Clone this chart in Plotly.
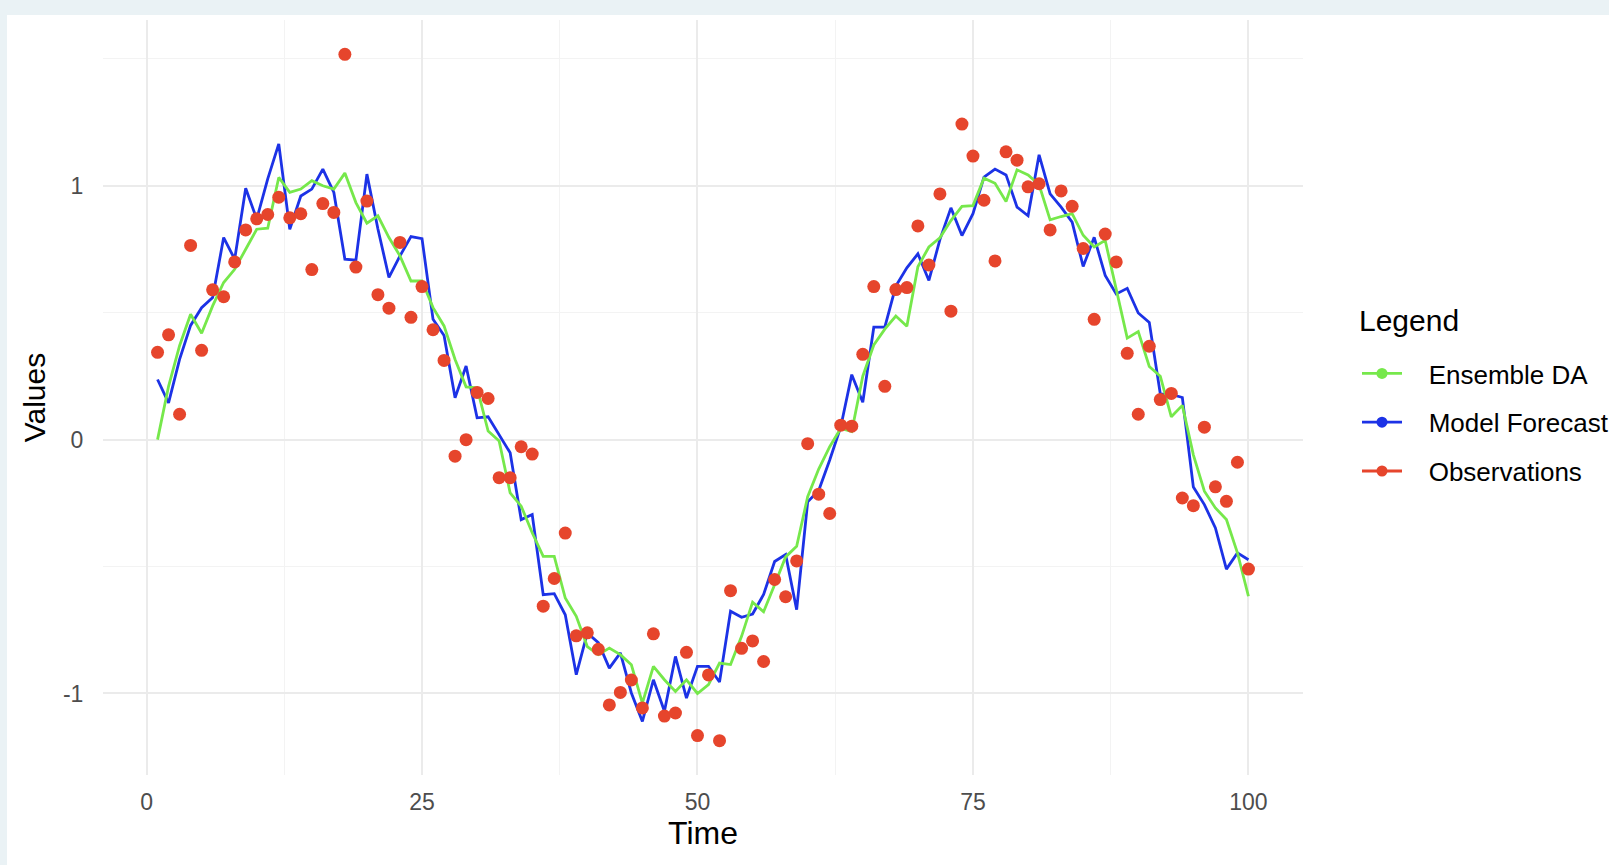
import plotly.graph_objects as go

time = list(range(1, 101))

observations = [0.344, 0.413, 0.10, 0.765, 0.352, 0.59, 0.563, 0.70, 0.826, 0.87,
                0.887, 0.955, 0.874, 0.89, 0.67, 0.93, 0.895, 1.518, 0.68, 0.94,
                0.571, 0.518, 0.777, 0.482, 0.603, 0.433, 0.312, -0.065, 0.0, 0.186,
                0.162, -0.15, -0.15, -0.028, -0.057, -0.656, -0.547, -0.368, -0.773, -0.761,
                -0.826, -1.045, -0.996, -0.947, -1.057, -0.765, -1.089, -1.077, -0.838, -1.166,
                -0.927, -1.186, -0.595, -0.822, -0.793, -0.874, -0.551, -0.619, -0.478, -0.016,
                -0.215, -0.291, 0.057, 0.053, 0.336, 0.603, 0.21, 0.591, 0.599, 0.842,
                0.688, 0.968, 0.506, 1.243, 1.117, 0.943, 0.704, 1.134, 1.101, 0.996,
                1.008, 0.826, 0.98, 0.919, 0.753, 0.474, 0.81, 0.70, 0.34, 0.10,
                0.368, 0.158, 0.182, -0.23, -0.26, 0.049, -0.186, -0.243, -0.089, -0.51]

model_forecast = [0.237, 0.145, 0.316, 0.45, 0.52, 0.56, 0.796, 0.711, 0.99, 0.869,
                  1.027, 1.165, 0.829, 0.96, 0.987, 1.066, 0.974, 0.711, 0.707, 1.046,
                  0.83, 0.639, 0.724, 0.80, 0.792, 0.474, 0.41, 0.165, 0.29, 0.086,
                  0.09, 0.02, -0.052, -0.315, -0.295, -0.611, -0.607, -0.69, -0.926, -0.762,
                  -0.80, -0.9, -0.84, -0.998, -1.11, -0.946, -1.07, -0.854, -1.018, -0.893,
                  -0.893, -0.955, -0.676, -0.70, -0.687, -0.61, -0.48, -0.453, -0.67, -0.245,
                  -0.2, -0.08, 0.05, 0.256, 0.147, 0.443, 0.443, 0.605, 0.677, 0.732,
                  0.627, 0.788, 0.913, 0.804, 0.89, 1.034, 1.066, 1.043, 0.916, 0.882,
                  1.122, 0.968, 0.916, 0.857, 0.682, 0.797, 0.647, 0.574, 0.596, 0.499,
                  0.462, 0.18, 0.178, 0.166, -0.187, -0.256, -0.348, -0.51, -0.446, -0.473]

ensemble_da = [0.0, 0.21, 0.37, 0.494, 0.419, 0.527, 0.619, 0.671, 0.75, 0.829,
               0.833, 1.033, 0.974, 0.987, 1.02, 1.0, 0.987, 1.05, 0.934, 0.853,
               0.882, 0.796, 0.724, 0.625, 0.625, 0.52, 0.448, 0.316, 0.208, 0.204,
               0.034, -0.005, -0.21, -0.262, -0.367, -0.46, -0.46, -0.624, -0.696, -0.815,
               -0.847, -0.821, -0.847, -0.887, -1.038, -0.893, -0.946, -0.992, -0.946, -1.0,
               -0.965, -0.88, -0.886, -0.775, -0.64, -0.678, -0.572, -0.462, -0.42, -0.225,
               -0.116, -0.028, 0.044, 0.032, 0.25, 0.373, 0.435, 0.487, 0.447, 0.681,
               0.759, 0.795, 0.863, 0.919, 0.922, 1.03, 1.01, 0.938, 1.063, 1.043,
               1.004, 0.866, 0.879, 0.89, 0.805, 0.759, 0.785, 0.59, 0.4, 0.426,
               0.288, 0.25, 0.09, 0.135, -0.06, -0.203, -0.269, -0.315, -0.446, -0.617]

legend_title = "Legend"
legend_names = ["Ensemble DA", "Model Forecast", "Observations"]
x_tickvals = [0, 25, 50, 75, 100]
x_ticktext = ["0", "25", "50", "75", "100"]
y_tickvals = [-1, 0, 1]
y_ticktext = ["-1", "0", "1"]

GREEN = "#76E84B"
BLUE = "#1C32E6"
RED = "#E6452C"
FONT = "Liberation Sans, Arial, Helvetica, sans-serif"
NBSP = "\u00a0"

fig = go.Figure()
fig.add_trace(go.Scatter(x=time, y=model_forecast, mode="lines",
                         line=dict(color=BLUE, width=2.8), showlegend=False))
fig.add_trace(go.Scatter(x=time, y=ensemble_da, mode="lines",
                         line=dict(color=GREEN, width=2.8), showlegend=False))
fig.add_trace(go.Scatter(x=time, y=observations, mode="markers",
                         marker=dict(color=RED, size=13), showlegend=False))

# legend keys (line + point, as in the original)
for name, col in zip(legend_names, [GREEN, BLUE, RED]):
    fig.add_trace(go.Scatter(x=[None], y=[None], mode="lines+markers",
                             name=NBSP * 3 + name,
                             legendgroup=name,
                             line=dict(color=col, width=2.8),
                             marker=dict(color=col, size=11)))

ymin, ymax = min(observations), max(observations)
pad = 0.05 * (ymax - ymin)

grid_major = "#EBEBEB"
grid_minor = "#F3F3F3"

fig.update_layout(
    width=1609, height=865,
    paper_bgcolor="white", plot_bgcolor="white",
    margin=dict(l=103, r=306, t=20, b=90, autoexpand=False),
    font=dict(family=FONT, color="#000000"),
    showlegend=True,
    legend=dict(
        x=1.045, xanchor="left", y=(775 - 350) / 755, yanchor="top",
        font=dict(size=26, color="black"),
        traceorder="grouped", tracegroupgap=12,
        bgcolor="rgba(0,0,0,0)", itemwidth=40,
    ),
    annotations=[
        dict(text=legend_title, xref="paper", yref="paper",
             x=1.045, xanchor="left", y=(775 - 320) / 755, yanchor="middle",
             showarrow=False, font=dict(size=30, color="black")),
    ],
    xaxis=dict(
        range=[1 - 0.05 * 99, 100 + 0.05 * 99],
        tickmode="array", tickvals=x_tickvals, ticktext=x_ticktext,
        showgrid=True, gridcolor=grid_major, gridwidth=1.6,
        minor=dict(tickvals=[12.5, 37.5, 62.5, 87.5], showgrid=True,
                   gridcolor=grid_minor, gridwidth=1),
        zeroline=False, showline=False,
        ticks="outside", ticklen=6, tickcolor="rgba(0,0,0,0)",
        tickfont=dict(size=23, color="#4D4D4D"),
        title=dict(text="Time", font=dict(size=32, color="black"), standoff=8),
    ),
    yaxis=dict(
        range=[ymin - pad, ymax + pad],
        tickmode="array", tickvals=y_tickvals, ticktext=y_ticktext,
        showgrid=True, gridcolor=grid_major, gridwidth=1.6,
        minor=dict(tickvals=[-0.5, 0.5, 1.5], showgrid=True,
                   gridcolor=grid_minor, gridwidth=1),
        zeroline=False, showline=False,
        ticks="outside", ticklen=14, tickcolor="rgba(0,0,0,0)",
        tickfont=dict(size=23, color="#4D4D4D"),
        title=dict(text="Values", font=dict(size=30, color="black"), standoff=8),
    ),
    shapes=[
        dict(type="rect", xref="paper", yref="paper", layer="below",
             x0=-0.1, x1=(7 - 103) / 1200, y0=-0.2, y1=1.1,
             fillcolor="#EAF2F5", line=dict(width=0)),
        dict(type="rect", xref="paper", yref="paper", layer="below",
             x0=-0.1, x1=1.3, y0=(775 - 15) / 755, y1=1.1,
             fillcolor="#EAF2F5", line=dict(width=0)),
    ],
)

fig.write_html("out.html")
